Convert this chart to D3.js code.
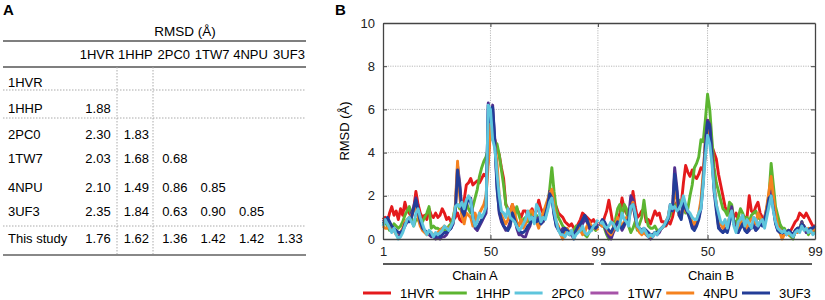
<!DOCTYPE html>
<html>
<head>
<meta charset="utf-8">
<script src="https://cdn.jsdelivr.net/npm/d3@7"></script>
<style>
  body { margin: 0; background: #fff; }
  svg { font-family: "Liberation Sans", Arial, sans-serif; }
  .grid line { stroke: #b8b8b8; stroke-dasharray: 1.2,1.2; }
  .axis path, .axis line { stroke: #444; }
  .axis text { font-size: 13px; fill: #222; }
</style>
</head>
<body>
<svg id="fig" width="825" height="300"></svg>
<script>
// ---- Panel A data: pairwise RMSD table ----
var tableCols = ['1HVR', '1HHP', '2PC0', '1TW7', '4NPU', '3UF3'];
var tableRows = ['1HVR', '1HHP', '2PC0', '1TW7', '4NPU', '3UF3', 'This study'];
var rmsd1HVR = [];
var rmsd1HHP = ['1.88'];
var rmsd2PC0 = ['2.30', '1.83'];
var rmsd1TW7 = ['2.03', '1.68', '0.68'];
var rmsd4NPU = ['2.10', '1.49', '0.86', '0.85'];
var rmsd3UF3 = ['2.35', '1.84', '0.63', '0.90', '0.85'];
var rmsdThisStudy = ['1.76', '1.62', '1.36', '1.42', '1.42', '1.33'];

// ---- Panel B data: per-residue RMSD, chain A and chain B (residues 1..99) ----
var seriesNames = ['1HVR', '1HHP', '2PC0', '1TW7', '4NPU', '3UF3'];
var xTickLabels = ['1', '50', '99', '50', '99'];
var yTicks = [0, 2, 4, 6, 8, 10];
var chainNames = ['Chain A', 'Chain B'];

var hvrA = [0.9,1.0,0.8,1.2,1.5,1.1,1.3,0.9,1.4,1.1,1.7,1.3,1.2,1.0,1.4,2.2,1.6,1.2,1.0,1.1,0.9,1.4,1.1,1.0,1.2,1.0,1.1,1.4,1.2,0.9,1.0,0.8,0.9,1.0,1.2,0.9,0.8,1.8,2.5,2.6,2.8,2.5,2.6,2.7,2.6,2.8,3.0,2.9,3.6,5.0,4.8,4.6,4.2,3.9,3.3,2.8,1.6,1.4,1.3,1.6,1.3,1.4,1.2,1.0,1.3,1.3,1.1,1.2,1.4,1.1,1.3,1.8,1.4,1.2,1.3,1.6,2.0,2.2,1.7,1.5,1.2,1.1,1.0,0.8,0.7,0.6,0.7,0.5,0.5,0.7,0.9,1.2,1.1,1.0,0.9,0.8,0.9,0.7,0.8];
var hhpA = [0.7,0.8,0.6,0.4,0.5,0.7,0.6,0.5,0.6,0.8,1.1,1.3,1.5,1.0,0.6,0.9,0.9,0.7,0.8,1.0,1.2,1.5,0.5,0.6,0.5,0.5,0.4,0.5,0.4,0.4,0.6,0.7,1.0,1.5,1.6,1.4,1.5,1.3,1.7,1.4,1.2,1.5,1.9,2.3,2.9,3.3,3.6,3.8,4.2,5.0,4.6,4.5,4.4,3.9,3.2,2.5,1.6,1.3,1.1,1.2,1.0,1.5,1.1,0.8,0.9,1.0,0.8,1.1,1.2,1.0,1.1,0.9,1.0,0.8,1.1,1.4,2.3,3.3,2.2,1.4,1.0,0.8,0.6,0.5,0.4,0.3,0.2,0.4,0.6,0.5,0.6,0.4,0.2,0.1,0.3,0.5,0.5,0.4,0.6];
var pc0A = [0.6,0.9,0.7,0.5,0.3,0.5,0.2,0.0,0.1,0.3,0.6,0.9,1.0,0.8,0.6,1.2,1.4,1.0,0.7,0.4,0.2,0.4,0.3,0.1,0.3,0.2,0.3,0.4,0.6,0.5,0.4,0.6,0.8,1.5,1.6,1.5,1.7,1.4,1.8,2.0,1.8,1.0,0.6,0.8,1.2,1.0,1.2,1.5,6.2,6.0,4.6,4.2,3.0,2.0,1.3,1.2,1.0,1.4,1.0,0.9,0.8,0.6,0.4,0.5,0.7,0.9,1.3,0.9,1.0,0.7,1.6,1.4,0.8,1.0,0.9,1.3,1.7,1.9,1.3,0.8,0.4,0.2,0.2,0.1,0.3,0.2,0.4,0.0,0.2,0.3,0.4,0.6,0.3,0.2,0.3,0.4,0.6,0.7,0.9];
var tw7A = [0.8,0.9,0.9,0.7,0.5,0.4,0.3,0.2,0.2,0.4,0.6,0.8,0.9,1.2,1.5,1.9,1.4,0.9,0.5,0.4,0.3,0.2,0.1,0.1,0.0,0.1,0.0,0.1,0.1,0.2,0.4,0.5,0.7,1.4,3.4,2.6,1.2,1.0,1.7,1.8,1.9,1.0,0.5,0.4,0.6,0.8,1.0,1.2,6.3,5.4,6.2,4.6,2.5,1.2,0.8,0.6,0.4,0.5,0.8,1.4,1.0,0.5,0.2,0.2,0.1,0.1,0.4,0.6,1.0,1.1,0.8,1.0,0.7,0.8,1.0,1.4,2.2,2.0,1.2,0.6,0.4,0.3,0.5,0.4,0.3,0.2,0.2,0.0,0.3,0.4,0.5,0.7,0.9,0.8,0.5,0.4,0.6,0.5,0.7];
var npuA = [0.6,0.5,0.5,0.7,0.6,0.4,0.2,0.3,0.3,0.5,0.8,0.9,1.0,1.1,1.3,1.6,1.0,0.6,0.4,0.3,0.2,0.3,0.3,0.2,0.2,0.3,0.4,0.5,0.6,0.5,0.5,0.6,0.8,1.6,3.6,2.0,1.0,0.7,1.2,1.1,1.0,0.6,1.2,0.8,1.2,1.4,1.6,2.0,3.5,5.3,4.8,4.5,3.5,2.0,1.1,0.9,0.7,0.9,1.2,1.6,1.2,0.8,0.6,0.9,0.5,0.7,1.0,1.3,1.3,1.0,0.8,0.5,0.9,1.2,1.5,1.8,2.1,2.3,1.5,0.8,0.6,0.2,0.0,0.3,0.5,0.3,0.4,0.1,0.3,0.6,0.4,0.2,0.3,0.6,0.8,0.6,0.5,0.6,0.4];
var uf3A = [0.7,0.8,1.0,0.8,0.6,0.5,0.4,0.3,0.3,0.4,0.7,0.8,0.8,1.0,1.4,1.8,1.3,0.8,0.5,0.4,0.3,0.3,0.2,0.1,0.1,0.2,0.1,0.2,0.3,0.3,0.4,0.5,0.8,1.3,3.2,2.4,1.3,1.1,1.6,1.9,1.7,1.0,0.6,0.5,0.7,0.9,1.1,1.4,6.2,5.5,6.1,4.5,2.3,1.3,0.9,0.6,0.5,0.4,0.6,1.2,0.9,0.6,0.4,0.3,0.3,0.4,0.6,0.7,0.9,1.0,0.8,0.9,0.7,0.9,1.1,1.5,2.1,1.9,1.1,0.6,0.5,0.3,0.3,0.5,0.4,0.3,0.3,0.2,0.4,0.6,0.7,0.9,1.1,0.9,0.6,0.5,0.6,0.5,0.6];

var hvrB = [0.8,0.6,1.0,1.3,1.8,1.2,0.6,0.8,0.7,1.2,1.9,1.4,1.2,1.0,1.3,2.2,1.5,1.0,1.1,1.3,1.4,0.8,0.9,0.7,1.0,1.3,1.1,1.2,0.8,0.8,0.6,0.8,0.7,1.0,1.5,1.7,1.5,1.6,2.6,3.4,3.1,2.9,3.2,2.9,2.8,3.0,3.3,3.2,3.8,5.5,4.8,4.3,4.0,3.7,3.0,2.5,2.0,1.5,1.2,1.4,1.1,1.0,1.2,0.9,0.8,1.1,1.0,1.0,2.0,1.3,1.2,1.5,1.7,1.2,1.0,0.8,1.2,2.0,2.5,1.8,1.0,0.8,0.6,0.5,0.4,0.3,0.4,0.4,0.6,0.8,0.9,1.2,1.1,1.0,1.2,1.0,0.8,0.6,0.6];
var hhpB = [0.6,0.8,0.5,0.2,0.0,0.3,0.5,0.9,1.4,1.6,1.0,1.6,1.4,0.6,0.3,0.5,0.8,0.4,0.7,1.0,1.8,1.0,0.6,0.5,0.5,0.6,0.4,0.4,0.5,0.6,0.7,0.9,1.1,1.5,1.6,1.4,1.8,1.5,1.6,1.2,1.4,2.0,2.5,3.3,3.5,3.8,4.6,4.5,5.5,6.7,6.0,4.6,3.3,2.6,2.2,1.8,1.4,1.3,1.1,1.7,1.6,0.9,0.7,1.0,1.4,1.2,0.9,1.0,0.8,1.1,1.2,1.3,1.0,0.9,0.7,0.8,1.2,2.0,3.5,2.5,1.5,1.1,0.7,0.5,0.5,0.3,0.2,0.1,0.0,0.4,0.5,0.5,0.8,0.5,0.4,0.2,0.4,0.3,0.4];
var pc0B = [0.7,0.8,0.6,0.5,0.6,0.8,0.7,0.5,0.4,0.7,1.2,0.9,0.8,0.6,1.5,1.6,1.2,0.6,0.5,0.3,0.5,0.3,0.1,0.2,0.1,0.3,0.2,0.4,0.5,0.6,0.8,1.0,1.6,1.4,1.5,1.3,1.4,1.6,2.0,1.6,1.3,1.2,1.0,0.9,0.9,1.2,1.4,2.5,3.8,4.8,4.4,3.5,2.3,1.6,1.2,0.8,0.7,0.9,0.5,1.0,1.3,0.6,0.3,0.8,0.9,1.1,0.6,0.9,0.7,0.5,1.0,0.9,0.6,0.8,0.9,0.5,1.0,1.5,2.0,1.3,0.8,0.5,0.4,0.3,0.4,0.2,0.3,0.2,0.1,0.3,0.4,0.3,0.6,0.4,0.5,0.3,0.4,0.2,0.3];
var tw7B = [0.6,0.8,0.6,0.3,0.1,0.0,0.3,0.5,0.9,0.7,0.4,0.6,0.9,1.0,2.0,1.8,1.2,0.6,0.4,0.3,0.4,0.2,0.1,0.0,0.1,0.3,0.2,0.3,0.5,0.6,0.8,1.0,1.6,1.4,3.3,2.4,1.2,1.0,1.8,1.5,1.3,1.0,0.6,0.5,0.8,1.0,1.6,2.8,4.5,5.5,5.3,4.0,2.5,1.5,0.6,0.4,0.3,0.5,0.4,0.8,1.5,0.8,0.4,0.3,0.6,0.9,0.5,0.3,0.4,0.6,0.7,0.4,0.6,0.8,0.7,1.0,1.4,2.0,2.2,1.5,0.8,0.4,0.3,0.2,0.3,0.2,0.4,0.2,0.1,0.3,0.5,0.4,0.8,0.5,0.3,0.4,0.5,0.4,0.6];
var npuB = [0.7,0.6,0.7,0.5,0.3,0.2,0.4,0.6,1.0,0.8,0.6,0.8,1.0,0.8,1.4,1.7,1.0,0.5,0.3,0.2,0.3,0.2,0.2,0.1,0.2,0.3,0.3,0.4,0.5,0.6,0.8,1.0,1.5,1.3,2.4,1.8,1.1,1.0,1.6,1.3,1.2,1.0,0.8,0.7,0.9,1.2,1.8,3.0,4.5,5.1,4.8,3.8,2.4,1.6,1.0,0.7,0.5,0.7,0.6,1.0,1.3,0.7,0.5,0.4,0.7,1.0,0.7,0.5,0.8,0.9,1.0,0.7,1.2,1.0,0.8,0.9,1.5,2.2,2.9,2.0,1.2,0.6,0.3,0.0,0.2,0.3,0.2,0.3,0.2,0.4,0.3,0.5,0.7,0.6,0.4,0.5,0.3,0.4,0.5];
var uf3B = [0.7,0.9,0.8,0.6,0.4,0.3,0.5,0.6,0.8,0.6,0.5,0.7,0.8,0.9,1.5,1.6,1.0,0.6,0.5,0.4,0.5,0.4,0.3,0.2,0.2,0.3,0.3,0.4,0.5,0.6,0.7,0.9,1.4,1.3,3.0,2.2,1.1,0.9,1.7,1.4,1.2,0.9,0.5,0.4,0.6,0.9,1.4,2.6,4.3,5.4,5.2,3.8,2.2,1.3,0.5,0.4,0.3,0.4,0.3,0.7,1.3,0.7,0.4,0.3,0.5,0.7,0.4,0.3,0.5,0.5,0.6,0.4,0.5,0.7,0.6,0.9,1.3,1.9,2.0,1.4,0.7,0.4,0.3,0.3,0.3,0.3,0.4,0.3,0.2,0.4,0.5,0.5,0.7,0.6,0.4,0.4,0.5,0.5,0.6];

// line colours in the plot, and the swatch colours in the legend
var lineColors = ['#e41a1c', '#5cb531', '#5ec5dc', '#52308f', '#f5821f', '#233d98'];
var legendColors = ['#e41a1c', '#5cb531', '#5ec5dc', '#a653a8', '#f5821f', '#233d98'];

var svg = d3.select('#fig');

// ================= Panel A =================
svg.append('text').attr('x', 3).attr('y', 15)
    .style('font-size', '15px').style('font-weight', 'bold').text('A');

var tbl = svg.append('g');
var colX = d3.scalePoint().domain(tableCols).range([97, 289]);
var rowY = d3.scalePoint().domain(tableRows).range([82, 238]);
var valueRows = [rmsd1HVR, rmsd1HHP, rmsd2PC0, rmsd1TW7, rmsd4NPU, rmsd3UF3, rmsdThisStudy];
// the 1TW7..3UF3 rows are not spaced quite evenly
var rowOffset = {'1TW7': -2, '4NPU': 1, '3UF3': -1};

tbl.append('text').attr('x', 185).attr('y', 36).attr('text-anchor', 'middle')
    .style('font-size', '13.5px').text('RMSD (Å)');
tbl.append('line').attr('x1', 3).attr('x2', 306).attr('y1', 41).attr('y2', 41)
    .attr('stroke', '#555').attr('stroke-width', 1.3);
tbl.append('line').attr('x1', 3).attr('x2', 306).attr('y1', 67).attr('y2', 67)
    .attr('stroke', '#555').attr('stroke-width', 1.3);
tbl.append('line').attr('x1', 3).attr('x2', 306).attr('y1', 255).attr('y2', 255)
    .attr('stroke', '#888').attr('stroke-width', 2);

[90, 118, 226].forEach(function(y) {
    tbl.append('line').attr('x1', 3).attr('x2', 306).attr('y1', y).attr('y2', y)
        .attr('stroke', '#aaa').attr('stroke-dasharray', '1.5,1.5');
});
[117, 153].forEach(function(x) {
    tbl.append('line').attr('x1', x).attr('x2', x).attr('y1', 67).attr('y2', 254)
        .attr('stroke', '#aaa').attr('stroke-dasharray', '1.5,1.5');
});

tbl.selectAll('.colhead').data(tableCols).enter().append('text')
    .attr('x', d => colX(d)).attr('y', 66.5)
    .attr('dy', '-0.55em')
    .attr('text-anchor', 'middle')
    .style('font-size', '13px')
    .text(d => d);

tableRows.forEach(function(r, ri) {
    var y = rowY(r) + (rowOffset[r] || 0);
    tbl.append('text').attr('x', 8).attr('y', y + 4.5)
        .style('font-size', '13px').text(r);
    valueRows[ri].forEach(function(v, ci) {
        tbl.append('text').attr('x', colX(tableCols[ci]) + 1).attr('y', y + 4.5)
            .attr('text-anchor', 'middle')
            .style('font-size', '13px').text(v);
    });
});

// ================= Panel B =================
svg.append('text').attr('x', 335).attr('y', 15)
    .style('font-size', '15px').style('font-weight', 'bold').text('B');

var plot = {l: 383, r: 815, t: 23, b: 239};
var nRes = 99;
var x = d3.scaleLinear().domain([0, 2 * nRes - 1]).range([plot.l, plot.r]);
var y = d3.scaleLinear().domain([0, 10]).range([plot.b, plot.t]);
var tickIdx = [0, 49, nRes - 1, nRes + 49, 2 * nRes - 1];

var g = svg.append('g');

// dotted grid
var grid = g.append('g').attr('class', 'grid');
grid.selectAll('.hg').data([2, 4, 6, 8]).enter().append('line')
    .attr('x1', plot.l).attr('x2', plot.r)
    .attr('y1', d => y(d)).attr('y2', d => y(d));
grid.selectAll('.vg').data(tickIdx.slice(1, 4)).enter().append('line')
    .attr('x1', d => x(d)).attr('x2', d => x(d))
    .attr('y1', plot.t).attr('y2', plot.b);

var chainA = [hvrA, hhpA, pc0A, tw7A, npuA, uf3A];
var chainB = [hvrB, hhpB, pc0B, tw7B, npuB, uf3B];
var drawOrder = [0, 1, 3, 4, 5, 2];

var line = d3.line().x(d => x(d.i)).y(d => y(d.v));
drawOrder.forEach(function(s) {
    [chainA[s], chainB[s]].forEach(function(vals, c) {
        var pts = vals.map((v, k) => ({i: c * nRes + k, v: v}));
        g.append('path').datum(pts)
            .attr('fill', 'none')
            .attr('stroke', lineColors[s])
            .attr('stroke-width', 2.9)
            .attr('stroke-linejoin', 'round')
            .attr('d', line);
    });
});

// axes (box with inward ticks)
g.append('g').attr('class', 'axis')
    .attr('transform', 'translate(' + plot.l + ',0)')
    .call(d3.axisLeft(y).tickValues(yTicks).tickSize(-4).tickPadding(8).tickSizeOuter(0));
g.append('g').attr('class', 'axis')
    .attr('transform', 'translate(' + plot.r + ',0)')
    .call(d3.axisRight(y).tickValues(yTicks.slice(1, 5)).tickSize(-4).tickFormat('').tickSizeOuter(0));
g.append('g').attr('class', 'axis')
    .attr('transform', 'translate(0,' + plot.t + ')')
    .call(d3.axisTop(x).tickValues(tickIdx.slice(1, 4)).tickSize(-4).tickFormat('').tickSizeOuter(0));
g.append('g').attr('class', 'axis')
    .attr('transform', 'translate(0,' + plot.b + ')')
    .call(d3.axisBottom(x).tickValues(tickIdx).tickSize(-4).tickPadding(8).tickSizeOuter(0)
        .tickFormat((d, k) => xTickLabels[k]));
g.selectAll('.axis path').attr('stroke-width', 1.3);

g.append('text')
    .attr('transform', 'translate(349,' + ((plot.t + plot.b) / 2) + ')rotate(-90)')
    .attr('text-anchor', 'middle')
    .style('font-size', '13px')
    .text('RMSD (Å)');

// chain brackets
var chainSpans = [[x(0), x(nRes - 1) - 4, 475], [x(nRes) + 1, x(2 * nRes - 1) - 3, 711]];
chainSpans.forEach(function(sp, k) {
    g.append('line').attr('x1', sp[0]).attr('x2', sp[1]).attr('y1', 264).attr('y2', 264)
        .attr('stroke', '#222').attr('stroke-width', 1.5);
    g.append('text').attr('x', sp[2]).attr('y', 280).attr('text-anchor', 'middle')
        .style('font-size', '13px').text(chainNames[k]);
});

// legend
var leg = svg.append('g').attr('transform', 'translate(363,293)');
var legItem = leg.selectAll('g').data(seriesNames).enter().append('g')
    .attr('transform', (d, k) => 'translate(' + (k * 75.8) + ',0)');
legItem.append('line').attr('x1', 0).attr('x2', 28).attr('y1', 0).attr('y2', 0)
    .attr('stroke', (d, k) => legendColors[k]).attr('stroke-width', 3);
legItem.append('text').attr('x', 37).attr('y', 4.5)
    .style('font-size', '13px').text(d => d);
</script>
</body>
</html>
